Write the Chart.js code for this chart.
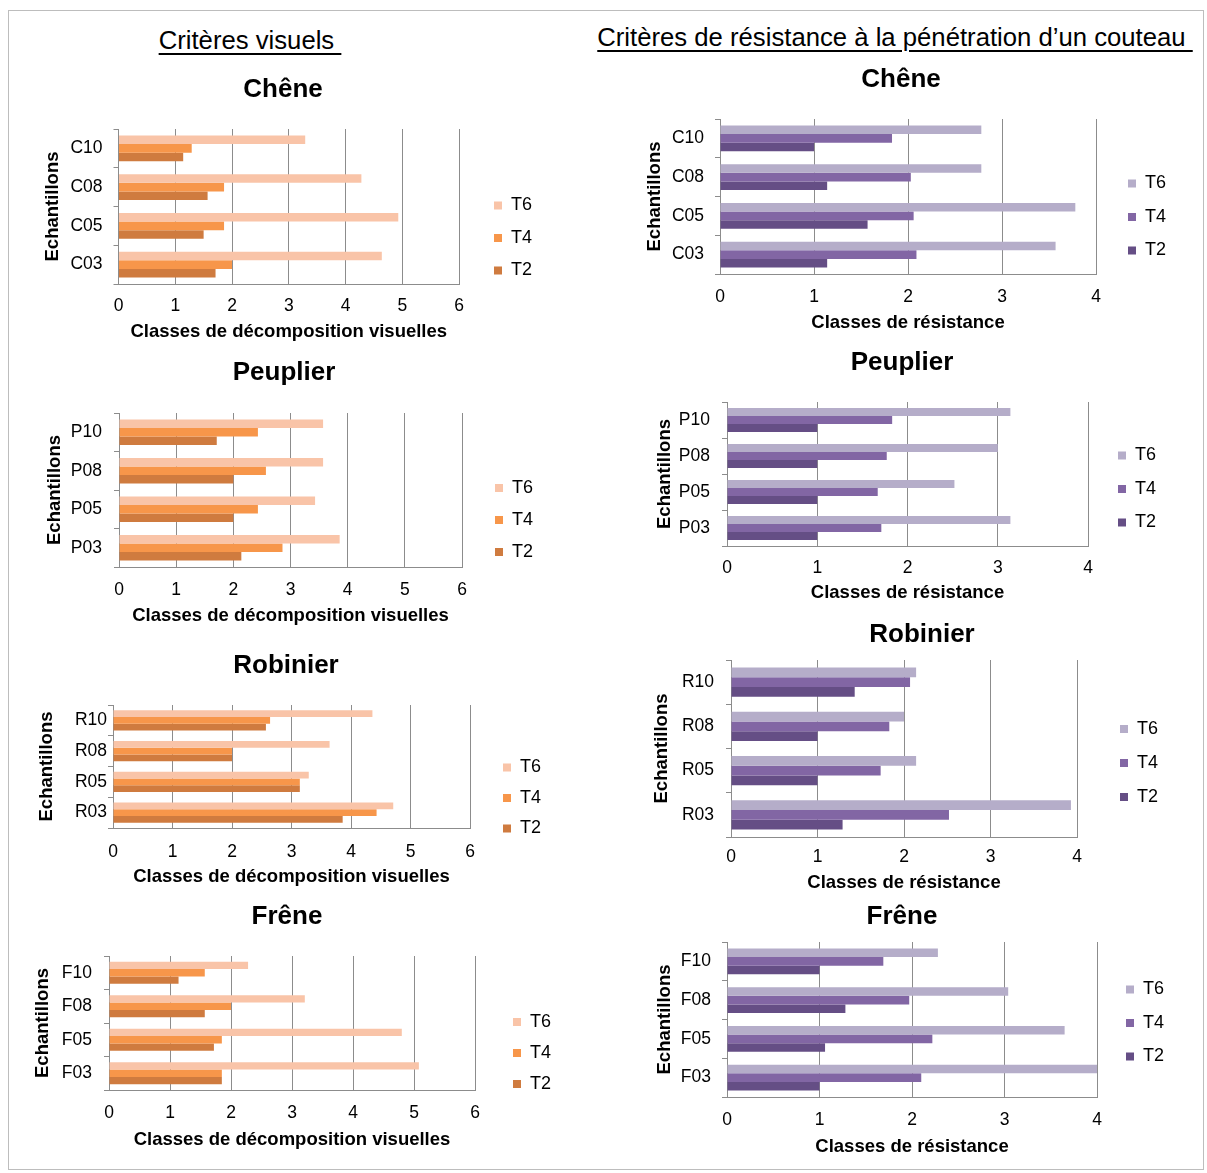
<!DOCTYPE html>
<html lang="fr">
<head>
<meta charset="UTF-8">
<title>Critères de décomposition</title>
<script src="https://cdn.jsdelivr.net/npm/chart.js"></script>
<style>
    body { margin: 0; background: #fff; font-family: "Liberation Sans", Arial, sans-serif; }
    .page { position: relative; width: 1207px; height: 1173px; overflow: hidden; }
    /* cadre gris autour de la figure */
    .frame { position: absolute; left: 8px; top: 10px; width: 1194px; height: 1158px; border: 1px solid #bdbdbd; }
    .header {
        position: absolute; font-size: 25.7px; line-height: 30px; color: #000;
        text-decoration: underline; text-underline-offset: 4px; white-space: pre;
        transform: translateX(-50%);
    }
    canvas { position: absolute; }
</style>
</head>
<body>
<div class="page">
    <div class="frame"></div>
    <div class="header" style="left:250px; top:25px">Critères visuels </div>
    <div class="header" style="left:895px; top:22px">Critères de résistance à la pénétration d’un couteau </div>
    <canvas id="cheneVis"></canvas>
    <canvas id="cheneRes"></canvas>
    <canvas id="peuplierVis"></canvas>
    <canvas id="peuplierRes"></canvas>
    <canvas id="robinierVis"></canvas>
    <canvas id="robinierRes"></canvas>
    <canvas id="freneVis"></canvas>
    <canvas id="freneRes"></canvas>
</div>

<script>
// --- données ---
const cheneLabels = ['C10', 'C08', 'C05', 'C03'];
const cheneVisT6 = [3.29, 4.28, 4.93, 4.64];
const cheneVisT4 = [1.29, 1.86, 1.86, 2.00];
const cheneVisT2 = [1.14, 1.57, 1.50, 1.71];
const cheneResT6 = [2.78, 2.78, 3.78, 3.57];
const cheneResT4 = [1.83, 2.03, 2.06, 2.09];
const cheneResT2 = [1.00, 1.14, 1.57, 1.14];

const peuplierLabels = ['P10', 'P08', 'P05', 'P03'];
const peuplierVisT6 = [3.57, 3.57, 3.43, 3.86];
const peuplierVisT4 = [2.43, 2.57, 2.43, 2.86];
const peuplierVisT2 = [1.71, 2.00, 2.00, 2.14];
const peuplierResT6 = [3.14, 3.00, 2.52, 3.14];
const peuplierResT4 = [1.83, 1.77, 1.67, 1.71];
const peuplierResT2 = [1.00, 1.00, 1.00, 1.00];

const robinierLabels = ['R10', 'R08', 'R05', 'R03'];
const robinierVisT6 = [4.36, 3.64, 3.29, 4.71];
const robinierVisT4 = [2.64, 2.00, 3.14, 4.43];
const robinierVisT2 = [2.57, 2.00, 3.14, 3.86];
const robinierResT6 = [2.14, 2.00, 2.14, 3.93];
const robinierResT4 = [2.07, 1.83, 1.73, 2.52];
const robinierResT2 = [1.43, 1.00, 1.00, 1.29];

const freneLabels = ['F10', 'F08', 'F05', 'F03'];
const freneVisT6 = [2.28, 3.21, 4.80, 5.08];
const freneVisT4 = [1.57, 2.00, 1.85, 1.85];
const freneVisT2 = [1.14, 1.57, 1.72, 1.85];
const freneResT6 = [2.28, 3.04, 3.65, 4.00];
const freneResT4 = [1.69, 1.97, 2.22, 2.10];
const freneResT2 = [1.00, 1.28, 1.06, 1.00];

const seriesNames = ['T6', 'T4', 'T2'];
const visTicksMax = 6;
const resTicksMax = 4;
const visAxisTitle = 'Classes de décomposition visuelles';
const resAxisTitle = 'Classes de résistance';

// --- styles ---
const orange = ['#F9C4A8', '#F7964A', '#CF7B3F'];
const purple = ['#B5ADC9', '#8266A4', '#654E85'];
const gridColor = '#8c8c8c';
const FONT = '"Liberation Sans", Arial, sans-serif';
const TITLE_SIZE = 26, AXIS_SIZE = 18.5, TICK_SIZE = 17.5, LEG_SIZE = 18, BOX = 8;

// position de chaque graphique dans la page (zone de tracé, titres, légende)
const geo = {
    cheneVis:    { L: 118.5, R: 459,  T: 129, B: 284,  titleX: 283, titleY: 90,  echX: 53,  labR: 102.5, tickY: 306,  axY: 332,  legX: 494,  legMid: 238,  legStep: 32.5 },
    cheneRes:    { L: 720,   R: 1096, T: 119, B: 274,  titleX: 901, titleY: 80,  echX: 655, labR: 704,   tickY: 297,  axY: 323,  legX: 1128, legMid: 217,  legStep: 33.5 },
    peuplierVis: { L: 119,   R: 462,  T: 413, B: 567,  titleX: 284, titleY: 373, echX: 55,  labR: 102,   tickY: 590,  axY: 616,  legX: 495,  legMid: 520,  legStep: 32 },
    peuplierRes: { L: 727,   R: 1088, T: 402, B: 546,  titleX: 902, titleY: 363, echX: 665, labR: 710,   tickY: 568,  axY: 593,  legX: 1118, legMid: 489,  legStep: 33.5 },
    robinierVis: { L: 113,   R: 470,  T: 705, B: 828,  titleX: 286, titleY: 666, echX: 47,  labR: 107,   tickY: 852,  axY: 877,  legX: 503,  legMid: 798,  legStep: 30.5 },
    robinierRes: { L: 731,   R: 1077, T: 660, B: 837,  titleX: 922, titleY: 635, echX: 662, labR: 714,   tickY: 857,  axY: 883,  legX: 1120, legMid: 763,  legStep: 34 },
    freneVis:    { L: 109,   R: 475,  T: 956, B: 1090, titleX: 287, titleY: 917, echX: 43,  labR: 92,    tickY: 1113, axY: 1140, legX: 513,  legMid: 1053, legStep: 31 },
    freneRes:    { L: 727,   R: 1097, T: 942, B: 1097, titleX: 902, titleY: 917, echX: 665, labR: 711,   tickY: 1120, axY: 1147, legX: 1126, legMid: 1023, legStep: 33.5 }
};

function drawChart(id, title, labels, t6, t4, t2, colors, xMax, xTitle) {
    const g = geo[id];
    const canvas = document.getElementById(id);
    const ctx = canvas.getContext('2d');

    // largeur naturelle de la légende de Chart.js (p + boîte + texte + 10)
    ctx.font = LEG_SIZE + 'px ' + FONT;
    const textW = Math.max(...seriesNames.map(s => ctx.measureText(s).width));
    const p = g.legStep - LEG_SIZE;
    const legW = p + BOX + LEG_SIZE / 2 + textW + 10;
    const gap = g.legX - g.R - p;

    // canvas centré sur le titre du graphique
    let cr = Math.max(g.R + gap + legW + 2, 2 * g.titleX - (g.echX - 13));
    const cl = Math.round(2 * g.titleX - cr);
    cr = 2 * g.titleX - cl;
    const extra = cr - (g.R + gap + legW);

    // haut/bas : la légende est centrée sur toute la hauteur du canvas
    const ct0 = g.titleY - TITLE_SIZE * 0.6;
    let ct = Math.round(ct0);
    if (2 * g.legMid - ct < g.axY + 16) ct = Math.round(2 * g.legMid - (g.axY + 16));
    const titlePadTop = g.titleY - TITLE_SIZE * 0.6 - ct;
    const cb = 2 * g.legMid - ct;

    canvas.width = cr - cl;
    canvas.height = cb - ct;
    canvas.style.left = cl + 'px';
    canvas.style.top = ct + 'px';

    const values = [t6, t4, t2];
    new Chart(ctx, {
        type: 'bar',
        data: {
            labels: labels,
            datasets: seriesNames.map((name, i) => ({
                label: name,
                data: values[i],
                backgroundColor: colors[i],
                borderWidth: 0,
                categoryPercentage: 0.66,
                barPercentage: 1.0
            }))
        },
        options: {
            indexAxis: 'y',
            responsive: false,
            animation: false,
            devicePixelRatio: 1,
            layout: { padding: 0 },
            plugins: {
                title: {
                    display: true, text: title, color: '#000',
                    font: { family: FONT, size: TITLE_SIZE, weight: 'bold' },
                    padding: { top: titlePadTop, bottom: g.T - ct - titlePadTop - TITLE_SIZE * 1.2 }
                },
                legend: {
                    position: 'right',
                    labels: {
                        boxWidth: BOX, boxHeight: BOX, padding: p, color: '#000',
                        font: { family: FONT, size: LEG_SIZE }
                    }
                },
                tooltip: { enabled: false }
            },
            scales: {
                x: {
                    min: 0, max: xMax,
                    ticks: { stepSize: 1, color: '#000', font: { family: FONT, size: TICK_SIZE },
                             padding: g.tickY - g.B - TICK_SIZE * 0.6 },
                    grid: { color: gridColor, drawTicks: false },
                    border: { color: gridColor },
                    title: {
                        display: true, text: xTitle, color: '#000',
                        font: { family: FONT, size: AXIS_SIZE, weight: 'bold' },
                        padding: { top: 0, bottom: cb - g.axY - AXIS_SIZE * 0.6 }
                    },
                    afterFit: (s) => { s.height = cb - g.B; }
                },
                y: {
                    ticks: { color: '#000', font: { family: FONT, size: TICK_SIZE },
                             padding: g.L - g.labR - 5 },
                    grid: { color: gridColor, drawOnChartArea: false, tickLength: 5, offset: true },
                    border: { color: gridColor },
                    title: {
                        display: true, text: 'Echantillons', color: '#000',
                        font: { family: FONT, size: AXIS_SIZE, weight: 'bold' },
                        padding: { top: g.echX - cl - AXIS_SIZE * 0.6, bottom: 0 }
                    },
                    afterFit: (s) => { s.width = g.L - cl; }
                },
                // espaceurs à droite : avant et après la légende
                gapY: {
                    type: 'category', position: 'right', display: true, weight: 0,
                    ticks: { display: false }, grid: { display: false }, border: { display: false },
                    afterFit: (s) => { s.width = gap; }
                },
                endY: {
                    type: 'category', position: 'right', display: true, weight: 2000,
                    ticks: { display: false }, grid: { display: false }, border: { display: false },
                    afterFit: (s) => { s.width = extra; }
                }
            }
        }
    });
}

drawChart('cheneVis', 'Chêne', cheneLabels, cheneVisT6, cheneVisT4, cheneVisT2, orange, visTicksMax, visAxisTitle);
drawChart('cheneRes', 'Chêne', cheneLabels, cheneResT6, cheneResT4, cheneResT2, purple, resTicksMax, resAxisTitle);
drawChart('peuplierVis', 'Peuplier', peuplierLabels, peuplierVisT6, peuplierVisT4, peuplierVisT2, orange, visTicksMax, visAxisTitle);
drawChart('peuplierRes', 'Peuplier', peuplierLabels, peuplierResT6, peuplierResT4, peuplierResT2, purple, resTicksMax, resAxisTitle);
drawChart('robinierVis', 'Robinier', robinierLabels, robinierVisT6, robinierVisT4, robinierVisT2, orange, visTicksMax, visAxisTitle);
drawChart('robinierRes', 'Robinier', robinierLabels, robinierResT6, robinierResT4, robinierResT2, purple, resTicksMax, resAxisTitle);
drawChart('freneVis', 'Frêne', freneLabels, freneVisT6, freneVisT4, freneVisT2, orange, visTicksMax, visAxisTitle);
drawChart('freneRes', 'Frêne', freneLabels, freneResT6, freneResT4, freneResT2, purple, resTicksMax, resAxisTitle);
</script>
</body>
</html>
